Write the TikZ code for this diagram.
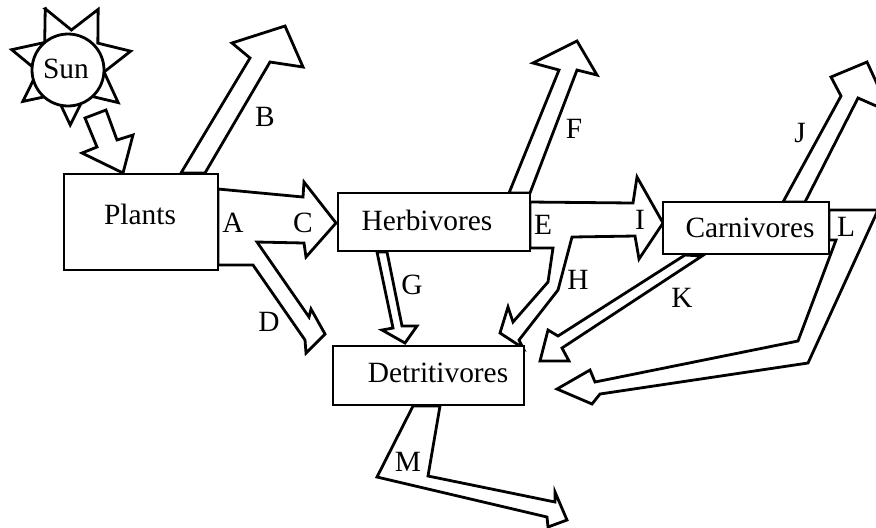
\documentclass[tikz,border=0pt]{standalone}
\usepackage{fontspec}
\setmainfont{Liberation Serif}
\begin{document}
\begin{tikzpicture}[
		x=0.5pt, y=-0.5pt,
		font=\fontsize{14.7}{17}\selectfont,
		box/.style={draw, line width=1.4pt, fill=white, inner sep=0pt},
		flow/.style={draw, line width=1.4pt, fill=white, line join=miter},
		tag/.style={inner sep=0pt}
	]
	\useasboundingbox (0,0) rectangle (876,527);
	\clip (0,0) rectangle (876,527);
	% sun
	\begin{scope}[shift={(71,64)}]
		\draw[flow] (-115:61) \foreach \k in {0,...,6} {
				-- ({-115+\k*51.43+25.71}:34) -- ({-115+(\k+1)*51.43}:61)} -- cycle;
	\end{scope}
	\node[circle, box, minimum size=36pt] (sun) at (68,70) {};
	\node[tag] (sunname) at (66,69) {Sun};
	% flows
	\draw[flow] (85,118) -- (106,110) -- (117,140) -- (133,135) -- (123,173) -- (82,153) -- (97,147) -- cycle;
	\draw[flow] (181,173) -- (250,58) -- (232,43) -- (285,26) -- (303,67) -- (270,62) -- (205,173) -- cycle;
	\draw[flow] (218,189) -- (303,197) -- (304,182) -- (336,223) -- (306,257) -- (304,243) -- (257,242)
		-- (309,317) -- (311,309) -- (325,334) -- (306,353) -- (305,340) -- (253,265) -- (218,265) -- cycle;
	\draw[flow] (509,193) -- (559,70) -- (533,63) -- (577,41) -- (597,75) -- (577,70) -- (530,193) -- cycle;
	\draw[flow] (377,252) -- (393,328) -- (382,330) -- (405,343) -- (417,326) -- (402,326) -- (387,252) -- cycle;
	\draw[flow] (530,202) -- (633,203) -- (637,177) -- (663,223) -- (639,259) -- (635,236) -- (572,237)
		-- (558,290) -- (519,340) -- (523,348) -- (500,333) -- (508,307) -- (513,322) -- (548,282)
		-- (553,248) -- (530,248) -- cycle;
	\draw[flow] (783,202) -- (841,96) -- (831,77) -- (867,62) -- (890,112) -- (858,98) -- (805,202) -- cycle;
	\draw[flow] (685,255) -- (558,336) -- (548,330) -- (540,361) -- (569,361) -- (562,348) -- (702,256) -- cycle;
	\draw[flow] (829,210) -- (878,210) -- (808,363) -- (600,394) -- (592,404) -- (557,389) -- (590,370)
		-- (595,382) -- (798,341) -- (836,240) -- (829,240) -- cycle;
	\draw[flow] (413,406) -- (377,477) -- (547,517) -- (548,527) -- (567,520) -- (555,492) -- (555,502)
		-- (428,476) -- (440,406) -- cycle;
	% boxes
	\node[box, minimum width=77pt, minimum height=48pt] (plants) at (141,222) {};
	\node[box, minimum width=96pt, minimum height=29pt] (herb) at (434,222) {};
	\node[box, minimum width=83pt, minimum height=26pt] (carn) at (746,228) {};
	\node[box, minimum width=95.5pt, minimum height=29.5pt] (detr) at (428.5,375.5) {};
	\node[tag] (plantsname) at (140,214) {Plants};
	\node[tag] (herbname) at (427,220) {Herbivores};
	\node[tag] (carnname) at (750,228) {Carnivores};
	\node[tag] (detrname) at (438,373) {Detritivores};
	% letters
	\node[tag] (a) at (233,223) {A};
	\node[tag] (b) at (265,117) {B};
	\node[tag] (c) at (303,223) {C};
	\node[tag] (d) at (269,322) {D};
	\node[tag] (e) at (543,225) {E};
	\node[tag] (f) at (574,129) {F};
	\node[tag] (g) at (412,285) {G};
	\node[tag] (h) at (578,280) {H};
	\node[tag] (i) at (640,220) {I};
	\node[tag] (j) at (800,133) {J};
	\node[tag] (k) at (682,298) {K};
	\node[tag] (l) at (846,227) {L};
	\node[tag] (m) at (408,462) {M};
\end{tikzpicture}
\end{document}
